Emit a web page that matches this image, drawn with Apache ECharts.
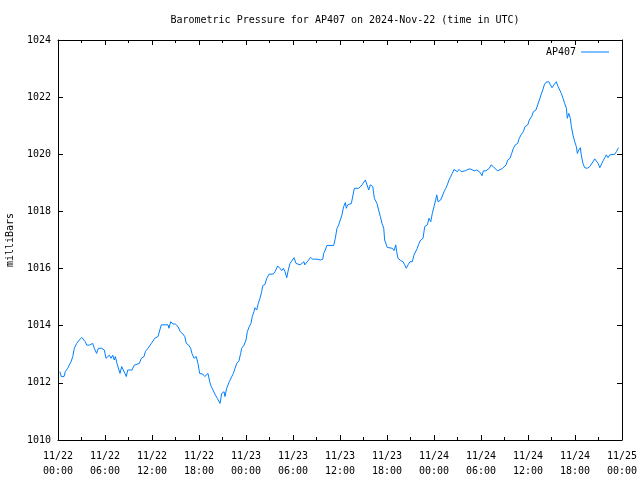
<!DOCTYPE html>
<html>
<head>
<meta charset="utf-8">
<script src="https://cdn.jsdelivr.net/npm/echarts@6/dist/echarts.min.js"></script>
<style>html,body{margin:0;padding:0;background:#fff}#c{width:640px;height:480px}</style>
</head>
<body>
<div id="c"></div>
<script>
// minutes since 2024-11-22 00:00 UTC
const minutes = [15,25,46,56,74,87,100,113,125,143,163,182,194,209,220,240,253,266,278,296,309,335,355,368,381,393,406,419,431,439,452,465,475,488,500,513,523,534,546,567,584,597,623,
633,638,659,669,689,702,715,728,741,753,766,779,791,843,850,863,873,881,898,919,937,957,971,983,1001,1016,1026,1042,1052,1059,1072,1085,1111,1124,1136,1149,1162,1174,1187,1205,1220,1231,1241,1254,1272,1279,1292,
1312,1331,1343,1356,1369,1386,1399,1407,1425,1440,1450,1465,1478,1488,1501,1509,1522,1534,1547,1560,1568,1586,1599,1616,1649,1662,1670,1683,1700,1714,1726,1739,1752,1764,1777,1790,1808,1823,1833,1854,1867,1884,
1890,1900,1920,1933,1951,1966,1984,1997,2009,2028,2035,2047,2060,2112,2124,2137,2150,2162,2175,2188,2201,2208,2219,2234,2247,2257,2270,2303,2316,2329,2342,2354,2367,2380,2392,2411,2423,2443,2456,2469,2482,2495,2502,
2505,2522,2535,2561,2574,2587,2594,2604,2625,2643,2656,2668,2681,2696,2714,2727,2740,2752,2765,2778,2796,2809,2819,2829,2842,2855,2867,2880,2893,2901,2911,2931,2944,2957,2970,2982,2995,3008,3020,3033,3046,3059,3072,3089,3104,3123,3140,
3156,3171,3189,3207,3220,3232,3248,3258,3278,3291,3304,3317,3334,3350,3368,3380,3406,3419,3432,3445,3462,3475,3488,3503,3521,3533,3547,3564,3577,3598,3610,3628,3641,3661,3674,3687,3700,3713,3725,3738,3759,
3766,3784,3799,3817,3830,3843,3855,3868,3881,3894,3901,3912,3924,3932,3945,3958,3970,3978,3989,4001,4008,4021,4034,4054,4073,4085,4098,4111,4124,4137,4150,4162,4175,4188,4200,4213,4226,4238,4264,4277,4290,4295];

const pressure = [1012.39,1012.22,1012.22,1012.39,1012.51,1012.45,1012.74,1012.92,1013.21,1013.38,1013.50,1013.59,1013.56,1013.44,1013.32,1013.32,1013.38,1013.38,1013.21,1013.03,1013.21,1013.21,1013.15,1012.86,1012.92,1012.97,1012.86,1012.97,1012.80,1012.92,1012.68,1012.62,1012.33,1012.57,1012.45,1012.33,1012.22,1012.45,1012.39,1012.45,1012.62,1012.68,1012.68,
1012.74,1012.86,1012.92,1013.09,1013.21,1013.27,1013.38,1013.44,1013.56,1013.50,1013.62,1013.67,1014.03,1014.03,1013.91,1014.14,1014.18,1014.06,1014.06,1013.97,1013.79,1013.71,1013.62,1013.38,1013.32,1013.21,1013.03,1012.86,1012.80,1012.92,1012.68,1012.33,1012.30,1012.22,1012.25,1012.33,1012.04,1011.87,1011.75,1011.58,1011.46,1011.52,1011.28,1011.63,1011.69,1011.52,1011.81,
1012.04,1012.22,1012.33,1012.51,1012.68,1012.77,1013.03,1013.21,1013.32,1013.50,1013.79,1013.97,1014.08,1014.32,1014.49,1014.63,1014.55,1014.78,1014.96,1015.19,1015.40,1015.45,1015.66,1015.80,1015.81,1015.89,1015.83,1016.09,1016.01,1015.93,1016.01,1015.89,1015.68,1015.95,1016.18,1016.24,1016.38,1016.18,1016.24,1016.13,1016.18,1016.24,
1016.13,1016.13,1016.30,1016.39,1016.33,1016.39,1016.33,1016.39,1016.30,1016.33,1016.53,1016.65,1016.81,1016.81,1017.06,1017.41,1017.53,1017.58,1017.88,1018.17,1018.31,1018.11,1018.23,1018.17,1018.28,1018.32,1018.81,1018.81,1018.87,1018.93,1018.89,1019.10,1018.93,1018.75,1018.93,1018.87,1018.46,1018.28,1018.05,1017.82,1017.58,1017.41,1017.00,
1016.94,1016.74,1016.71,1016.71,1016.63,1016.83,1016.59,1016.36,1016.28,1016.24,1016.13,1016.01,1016.13,1016.24,1016.24,1016.48,1016.53,1016.71,1016.88,1017.00,1017.06,1017.47,1017.41,1017.53,1017.76,1017.64,1017.93,1018.17,1018.40,1018.58,1018.34,1018.40,1018.46,1018.69,1018.81,1018.93,1019.10,1019.22,1019.33,1019.47,1019.45,1019.39,1019.47,1019.39,1019.45,1019.43,1019.47,
1019.49,1019.45,1019.42,1019.45,1019.51,1019.37,1019.25,1019.42,1019.42,1019.45,1019.51,1019.63,1019.57,1019.49,1019.42,1019.49,1019.51,1019.57,1019.63,1019.80,1019.86,1020.03,1020.21,1020.33,1020.38,1020.56,1020.68,1020.79,1020.97,1021.03,1021.20,1021.32,1021.49,1021.55,1021.73,1021.90,1022.08,1022.25,1022.43,1022.52,1022.54,
1022.52,1022.33,1022.43,1022.54,1022.37,1022.25,1022.13,1021.96,1021.78,1021.61,1021.26,1021.43,1021.26,1020.97,1020.67,1020.44,1020.27,1020.03,1020.15,1020.23,1019.98,1019.68,1019.53,1019.51,1019.57,1019.63,1019.74,1019.84,1019.80,1019.68,1019.53,1019.60,1019.77,1019.88,1019.98,1019.88,1019.98,1020.00,1020.00,1020.09,1020.21,1020.23];

const xTickLabels = ['11/22\n00:00','11/22\n06:00','11/22\n12:00','11/22\n18:00','11/23\n00:00','11/23\n06:00','11/23\n12:00','11/23\n18:00','11/24\n00:00','11/24\n06:00','11/24\n12:00','11/24\n18:00','11/25\n00:00'];
const yTicks = [1010,1012,1014,1016,1018,1020,1022,1024];
const seriesName = 'AP407';
const titleText = 'Barometric Pressure for AP407 on 2024-Nov-22 (time in UTC)';
const yName = 'milliBars';

const FONT = 'DejaVu Sans Mono';
const chart = echarts.init(document.getElementById('c'), null, {renderer:'canvas'});
const lineStyle = {color:'#000', width:1};
const tickCommon = {show:true, inside:true, length:5, lineStyle:{color:'#000', width:1}};
const xCommon = {
  type:'value', min:0, max:4320, interval:360,
  axisLine:{show:true, onZero:false, lineStyle}, splitLine:{show:false},
  axisTick:tickCommon,
  minorTick:{show:true, splitNumber:2, length:3, lineStyle:{color:'#000', width:1}}
};
const yCommon = {
  type:'value', min:yTicks[0], max:yTicks[yTicks.length-1], interval:2,
  axisLine:{show:true, onZero:false, lineStyle}, splitLine:{show:false},
  axisTick:tickCommon
};
chart.setOption({
  animation:false,
  backgroundColor:'#fff',
  title:{text:titleText, left:340, textAlign:'center', top:10,
    textStyle:{fontFamily:FONT, fontSize:10, fontWeight:'normal', color:'#000'}},
  legend:{show:true, right:26, top:42, align:'right', itemWidth:28, itemHeight:10,
    textStyle:{fontFamily:FONT, fontSize:10, color:'#000'},
    data:[{name:seriesName, icon:'path://M0,5 L28,5 L28,6 L0,6 Z'}]},
  grid:{left:58, right:18, top:40, bottom:40, containLabel:false, outerBoundsMode:'none'},
  xAxis:[
    Object.assign({}, xCommon, {position:'bottom',
      axisLabel:{show:true, margin:9, fontFamily:FONT, fontSize:10, color:'#000', lineHeight:15,
        formatter:(v)=>xTickLabels[Math.round(v/360)]}}),
    Object.assign({}, xCommon, {position:'top', axisLabel:{show:false}})
  ],
  yAxis:[
    Object.assign({}, yCommon, {position:'left', name:yName, nameLocation:'middle', nameRotate:90, nameGap:43,
      nameTextStyle:{fontFamily:FONT, fontSize:10, color:'#000'},
      axisLabel:{show:true, margin:7, fontFamily:FONT, fontSize:10, color:'#000',
        formatter:(v)=>String(v)}}),
    Object.assign({}, yCommon, {position:'right', axisLabel:{show:false}})
  ],
  series:[{
    name:seriesName, type:'line', xAxisIndex:0, yAxisIndex:0,
    data:minutes.map((m,i)=>[m, pressure[i]]),
    showSymbol:false, symbol:'none',
    lineStyle:{color:'#0080ff', width:1}, itemStyle:{color:'#0080ff'}
  }]
});
</script>
</body>
</html>
